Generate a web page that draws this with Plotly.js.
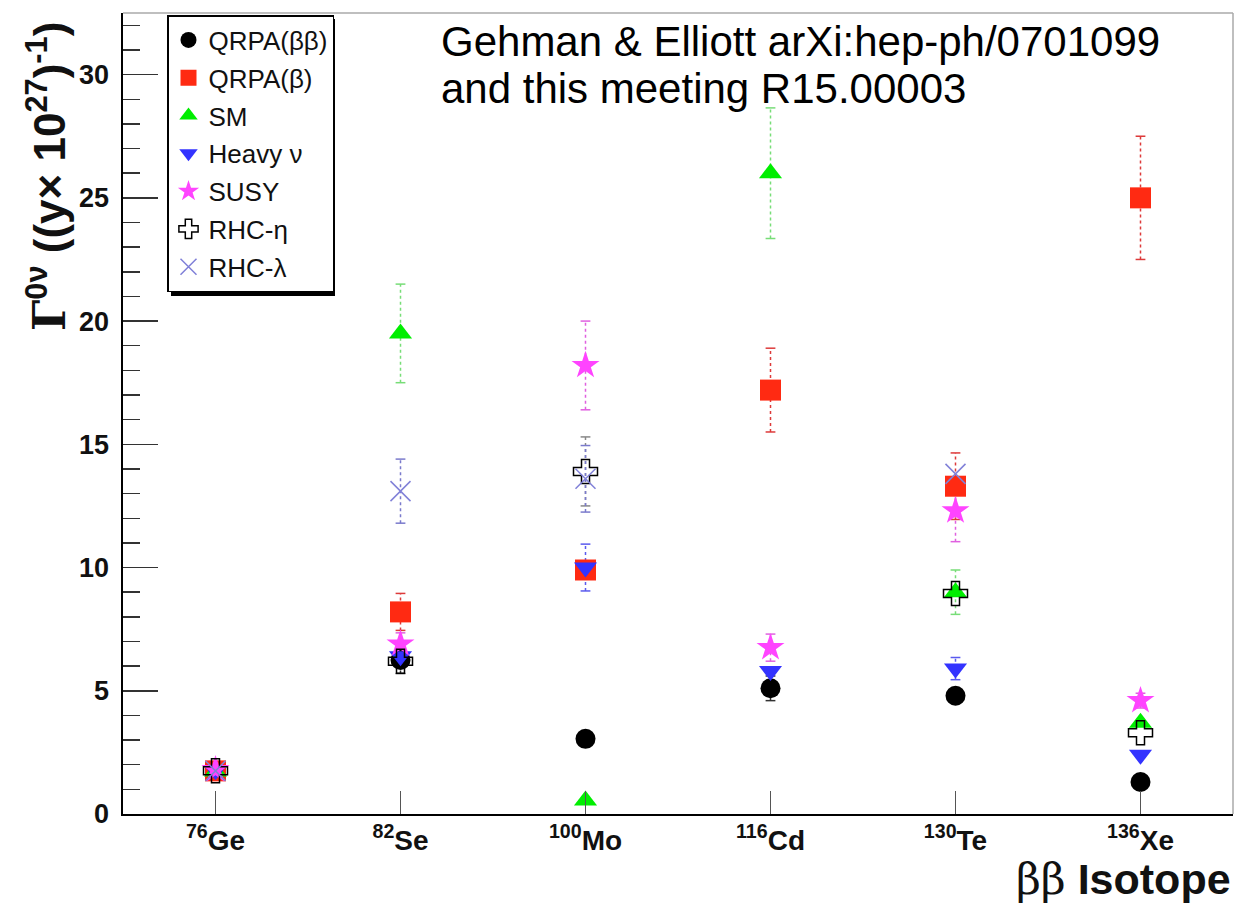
<!DOCTYPE html>
<html>
<head>
<meta charset="utf-8">
<script src="https://cdn.plot.ly/plotly-3.0.1.min.js"></script>
<style>html,body{margin:0;padding:0;background:#fff;}#chart{width:1236px;height:903px;}</style>
</head>
<body>
<div id="chart"></div>
<script>
// ---- data ----
const massNumbers = ["76", "82", "100", "116", "130", "136"];
const elements = ["Ge", "Se", "Mo", "Cd", "Te", "Xe"];
const categories = massNumbers.map((m, i) => "<sup>" + m + "</sup>" + elements[i]);

const seriesNames = ["QRPA(ββ)", "QRPA(β)", "SM", "Heavy ν", "SUSY", "RHC-η", "RHC-λ"];

const qrpaBB    = [1.75, 6.25, 3.05, 5.10, 4.80, 1.30];
const qrpaB     = [1.75, 8.20, 9.90, 17.2, 13.3, 25.0];
const sm        = [1.72, 19.5, 0.55, 26.0, 9.00, 3.70];
const heavyNu   = [1.78, 6.40, 10.0, 5.80, 5.90, 2.40];
const susy      = [1.80, 6.90, 18.2, 6.75, 12.3, 4.60];
const rhcEta    = [1.75, 6.20, 13.9, null, 8.95, 3.30];
const rhcLambda = [1.75, 13.1, 13.6, null, 13.8, null];

const qrpaBBErr    = [null, 0.55, null, 0.50, null, null];
const qrpaBErr     = [null, 0.75, null, 1.70, 1.35, 2.50];
const smErr        = [null, 2.00, null, 2.65, 0.90, null];
const heavyNuErr   = [null, null, 0.95, null, 0.45, null];
const susyErr      = [null, 0.45, 1.80, 0.55, 1.25, 0.30];
const rhcEtaErr    = [null, null, 1.40, null, null, null];
const rhcLambdaErr = [null, 1.30, 1.35, null, null, null];

const noteLines = ["Gehman & Elliott arXi:hep-ph/0701099", "and this meeting R15.00003"];

// ---- styles ----
const values = [qrpaBB, qrpaB, sm, heavyNu, susy, rhcEta, rhcLambda];
const errors = [qrpaBBErr, qrpaBErr, smErr, heavyNuErr, susyErr, rhcEtaErr, rhcLambdaErr];
const markerStyles = [
  {symbol: "circle", size: 20, color: "#000000"},
  {symbol: "square", size: 21, color: "#ff2a12"},
  {symbol: "triangle-up", size: 20, color: "#00ee00"},
  {symbol: "triangle-down", size: 20, color: "#3333ff"},
  {symbol: "star", size: 21, color: "#ff44ff"},
  {symbol: "cross-open", size: 20, color: "#000000", line: {color: "#000000", width: 1.5}},
  {symbol: "x-thin-open", size: 20, color: "#8080d8", line: {color: "#8080d8", width: 1.5}}
];
const errColors = ["#333333", "#dd3a3a", "#77dd77", "#5a5aee", "#e060e0", "#888888", "#7a7acc"];

const traces = [];
// error bars (dotted, drawn from values +/- errors)
values.forEach((vals, s) => {
  const ex = [], ey = [];
  vals.forEach((v, i) => {
    const e = errors[s][i];
    if (v !== null && e !== null) {
      ex.push(categories[i], categories[i], null);
      ey.push(v - e, v + e, null);
    }
  });
  if (ex.length) {
    traces.push({
      type: "scatter", mode: "lines+markers", x: ex, y: ey,
      line: {color: errColors[s], width: 1.5, dash: "dot"},
      marker: {symbol: "line-ew", size: 7, line: {color: errColors[s], width: 1.5}},
      showlegend: false, hoverinfo: "skip", legendgroup: "g" + s
    });
  }
});
// markers
values.forEach((vals, s) => {
  const m = Object.assign({}, markerStyles[s]);
  traces.push({
    type: "scatter", mode: "markers", name: seriesNames[s],
    x: categories, y: vals, marker: m, legendgroup: "g" + s
  });
});

const plotL = 123, plotR = 1233, plotT = 13, plotB = 814;
const W = 1236, H = 903;
const sans = "Liberation Sans, Arial, Helvetica, sans-serif";
const px = v => (v - plotL) / (plotR - plotL);
const py = v => (plotB - v) / (plotB - plotT);

const layout = {
  width: W, height: H,
  margin: {l: plotL, r: W - plotR, t: plotT, b: H - plotB, pad: 0},
  paper_bgcolor: "#ffffff", plot_bgcolor: "#ffffff",
  showlegend: true,
  legend: {
    x: px(167), y: py(15),
    xanchor: "left", yanchor: "top",
    bgcolor: "#ffffff", bordercolor: "#000000", borderwidth: 1.5,
    font: {family: sans, size: 26, color: "#111111"},
    traceorder: "grouped", tracegroupgap: 1, itemwidth: 30
  },
  xaxis: {
    type: "category", categoryorder: "array", categoryarray: categories,
    range: [-0.5, 5.5],
    showgrid: false, zeroline: false,
    showline: true, linecolor: "#000000", linewidth: 2,
    ticks: "inside", ticklen: 23, tickwidth: 1.5, tickcolor: "#555555",
    tickfont: {family: sans, size: 28, color: "#111111", weight: "bold"},
    ticklabelstandoff: 0
  },
  yaxis: {
    range: [0, 32.5], dtick: 5, tick0: 0,
    showgrid: false, zeroline: false,
    showline: true, linecolor: "#000000", linewidth: 2.5,
    ticks: "inside", ticklen: 35, tickwidth: 1.5, tickcolor: "#333333",
    minor: {dtick: 1, ticks: "inside", ticklen: 17, tickwidth: 1.5, tickcolor: "#333333"},
    tickfont: {family: sans, size: 27, color: "#111111", weight: "bold"},
    ticklabelstandoff: 6
  },
  shapes: [
    {type: "line", xref: "paper", yref: "paper", x0: 0, x1: 1, y0: 1, y1: 1, line: {color: "#aaaaaa", width: 1.5}},
    {type: "line", xref: "paper", yref: "paper", x0: 1, x1: 1, y0: 0, y1: 1, line: {color: "#aaaaaa", width: 1.5}},
    {type: "rect", xref: "paper", yref: "paper",
     x0: px(171), x1: px(335), y0: py(296), y1: py(19),
     fillcolor: "#000000", line: {width: 0}, layer: "above"}
  ],
  annotations: [
    {xref: "paper", yref: "paper", x: px(439), y: py(42),
     xanchor: "left", yanchor: "middle", showarrow: false, text: noteLines[0],
     font: {family: sans, size: 42, color: "#000000"}},
    {xref: "paper", yref: "paper", x: px(439), y: py(88),
     xanchor: "left", yanchor: "middle", showarrow: false, text: noteLines[1],
     font: {family: sans, size: 42, color: "#000000"}},
    {xref: "paper", yref: "paper", x: px(47), y: py(177),
     xanchor: "center", yanchor: "middle", showarrow: false, textangle: -90,
     text: "<b><span style='font-family:DejaVu Serif'>Γ</span><sup>0ν</sup> ((y× 10<sup>27</sup>)<sup>-1</sup>)</b>",
     font: {family: sans, size: 44, color: "#111111"}},
    {xref: "paper", yref: "paper", x: 1, y: py(879),
     xanchor: "right", yanchor: "middle", showarrow: false,
     text: "<span style='font-family:DejaVu Serif'>ββ</span> <b>Isotope</b>",
     font: {family: sans, size: 43, color: "#111111"}}
  ]
};

Plotly.newPlot("chart", traces, layout, {displayModeBar: false, staticPlot: true});
</script>
</body>
</html>
